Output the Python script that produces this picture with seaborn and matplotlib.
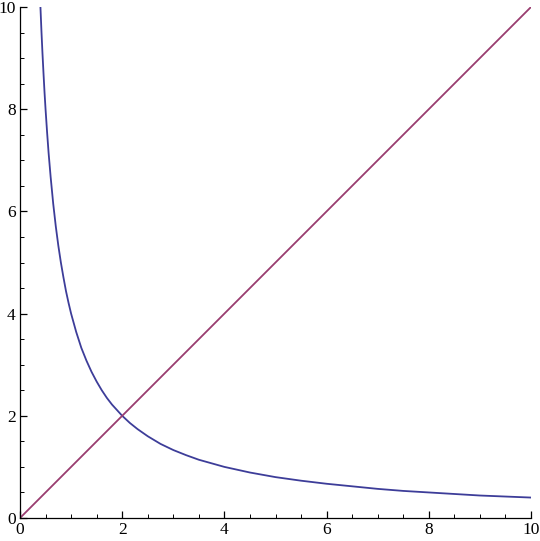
import matplotlib
matplotlib.use("Agg")
import matplotlib.pyplot as plt
import seaborn as sns
import pandas as pd
from matplotlib.ticker import MultipleLocator

# values
curve_x = [0.40, 0.42, 0.44, 0.46, 0.48, 0.50, 0.53, 0.56, 0.60, 0.65, 0.70, 0.75,
           0.80, 0.85, 0.90, 0.95, 1.00, 1.10, 1.20, 1.30, 1.40, 1.50, 1.60, 1.70,
           1.80, 1.90, 2.00, 2.15, 2.30, 2.50, 2.75, 3.00, 3.25, 3.50, 3.75, 4.00,
           4.50, 5.00, 5.50, 6.00, 6.50, 7.00, 7.50, 8.00, 8.50, 9.00, 9.50, 10.00]
curve_y = [10.00, 9.52, 9.09, 8.70, 8.33, 8.00, 7.55, 7.14, 6.67, 6.15, 5.71, 5.33,
           5.00, 4.71, 4.44, 4.21, 4.00, 3.64, 3.33, 3.08, 2.86, 2.67, 2.50, 2.35,
           2.22, 2.11, 2.00, 1.86, 1.74, 1.60, 1.45, 1.33, 1.23, 1.14, 1.07, 1.00,
           0.89, 0.80, 0.73, 0.67, 0.62, 0.57, 0.53, 0.50, 0.47, 0.44, 0.42, 0.40]
diag_x = [0, 10]
diag_y = [0, 10]

blue = "#3d3d99"
purple = "#993d70"

sns.set_style("ticks")
plt.rcParams['font.family'] = ['Liberation Serif']
plt.rcParams['text.color'] = 'black'
plt.rcParams['xtick.color'] = 'black'
plt.rcParams['ytick.color'] = 'black'
plt.rcParams['axes.edgecolor'] = 'black'

fig = plt.figure(figsize=(5.40, 5.41), dpi=100)
ax = fig.add_axes([20 / 540, 23 / 541, 511 / 540, 511 / 541])

df_curve = pd.DataFrame({"x": curve_x, "y": curve_y})
df_diag = pd.DataFrame({"x": diag_x, "y": diag_y})
sns.lineplot(data=df_curve, x="x", y="y", ax=ax, color=blue, lw=1.3, sort=False)
sns.lineplot(data=df_diag, x="x", y="y", ax=ax, color=purple, lw=1.3)

ax.set_xlim(0, 10)
ax.set_ylim(0, 10)
ax.xaxis.set_major_locator(MultipleLocator(2))
ax.yaxis.set_major_locator(MultipleLocator(2))
ax.xaxis.set_minor_locator(MultipleLocator(0.5))
ax.yaxis.set_minor_locator(MultipleLocator(0.5))
ax.tick_params(which="major", direction="in", length=5, width=0.9, labelsize=12.5, pad=3)
ax.tick_params(which="minor", direction="in", length=3, width=0.7)
ax.set_xlabel("")
ax.set_ylabel("")
for s in ["top", "right"]:
    ax.spines[s].set_visible(False)
for s in ["left", "bottom"]:
    ax.spines[s].set_linewidth(0.9)

fig.savefig("out.png", dpi=100)
